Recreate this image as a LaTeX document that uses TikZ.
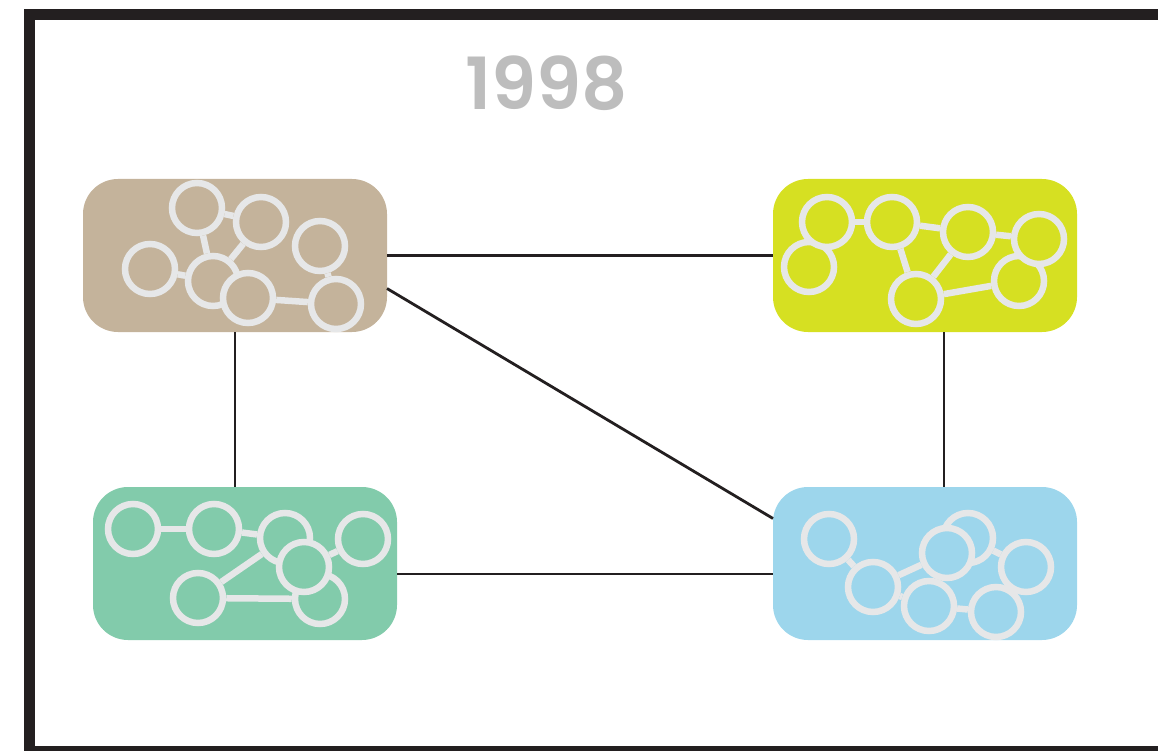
\documentclass[tikz,border=0pt]{standalone}
\usepackage{fontspec}
\newfontfamily\yearfont{Poppins SemiBold}
\usepackage{xcolor}
\usepackage{tikz}
\usetikzlibrary{positioning}
\definecolor{ink}{HTML}{231F20}
\definecolor{ring}{HTML}{E6E7E8}
\definecolor{yeargray}{HTML}{BDBDBD}
\definecolor{tanbox}{HTML}{C4B39B}
\definecolor{limebox}{HTML}{D6E022}
\definecolor{greenbox}{HTML}{82CBAB}
\definecolor{bluebox}{HTML}{9DD6EC}

\begin{document}
\begin{tikzpicture}[x=1pt, y=-1pt,
  group/.style={rounded corners=35pt, minimum width=304pt, minimum height=153pt,
                inner sep=0pt, outer sep=0pt},
  member/.style={circle, draw=ring, fill=#1, line width=6.5pt, minimum size=50pt, inner sep=0pt},
  tie/.style={draw=ring, line width=6.5pt},
  link/.style={draw=ink, line width=2.8pt}]
  \useasboundingbox (0,0) rectangle (1158,751);
  \clip (0,0) rectangle (1158,751);
  % outer frame, runs off the right and bottom edges
  \draw[ink, line width=11pt] (29,15) rectangle (1200,751.5);
  \node[font=\yearfont\fontsize{72}{72}\selectfont, text=yeargray] (year) at (546.5,83) {1998};

  % the four groups
  \node[group, fill=tanbox] (tan) at (235,255.5) {};
  \node[group, fill=limebox, right=386pt of tan] (lime) {};
  \node[group, fill=greenbox, below=155pt of tan, xshift=10pt] (green) {};
  \node[group, fill=bluebox, below=155pt of lime] (blue) {};
  \draw[link] (tan) -- (lime);
  \draw[link] (tan.south) -- (tan.south |- green.north);
  \draw[link] ([xshift=19pt]lime.south) -- ([xshift=19pt]lime.south |- blue.north);
  \draw[link] ([yshift=-10.5pt]green.east) -- ([yshift=-10.5pt]green.east -| blue.west);
  \draw[link] ([yshift=-33pt]tan.east) -- ([yshift=45pt]blue.west);

  % members inside each group
  \foreach \n/\x/\y in {t1/197/208, t2/261/222, t3/320/246, t4/150/269,
                        t5/213/281, t6/248/298, t7/336/304}
    \node[member=tanbox] (\n) at (\x,\y) {};
  \foreach \a/\b in {t1/t2, t1/t5, t2/t5, t4/t5, t6/t7, t3/t7}
    \draw[tie] (\a) -- (\b);

  \foreach \n/\x/\y in {l2/809/267, l1/827/222, l3/892/222, l4/968/232,
                        l6/1019/281, l5/1039/239, l7/916/299}
    \node[member=limebox] (\n) at (\x,\y) {};
  \foreach \a/\b in {l1/l3, l3/l4, l3/l7, l4/l7, l4/l5, l7/l6}
    \draw[tie] (\a) -- (\b);

  \foreach \n/\x/\y in {g1/133/529, g2/214/529, g3/285/538, g4/363/539,
                        g7/320/599, g5/304/567, g6/198/598}
    \node[member=greenbox] (\n) at (\x,\y) {};
  \foreach \a/\b in {g1/g2, g2/g3, g3/g6, g6/g7, g5/g4}
    \draw[tie] (\a) -- (\b);

  \foreach \n/\x/\y in {b1/829/539, b2/873/587, b3/968/538, b4/947/553,
                        b5/1026/567, b6/929/606, b7/996/612}
    \node[member=bluebox] (\n) at (\x,\y) {};
  \foreach \a/\b in {b1/b2, b2/b4, b2/b6, b6/b7, b3/b5}
    \draw[tie] (\a) -- (\b);
\end{tikzpicture}
\end{document}
